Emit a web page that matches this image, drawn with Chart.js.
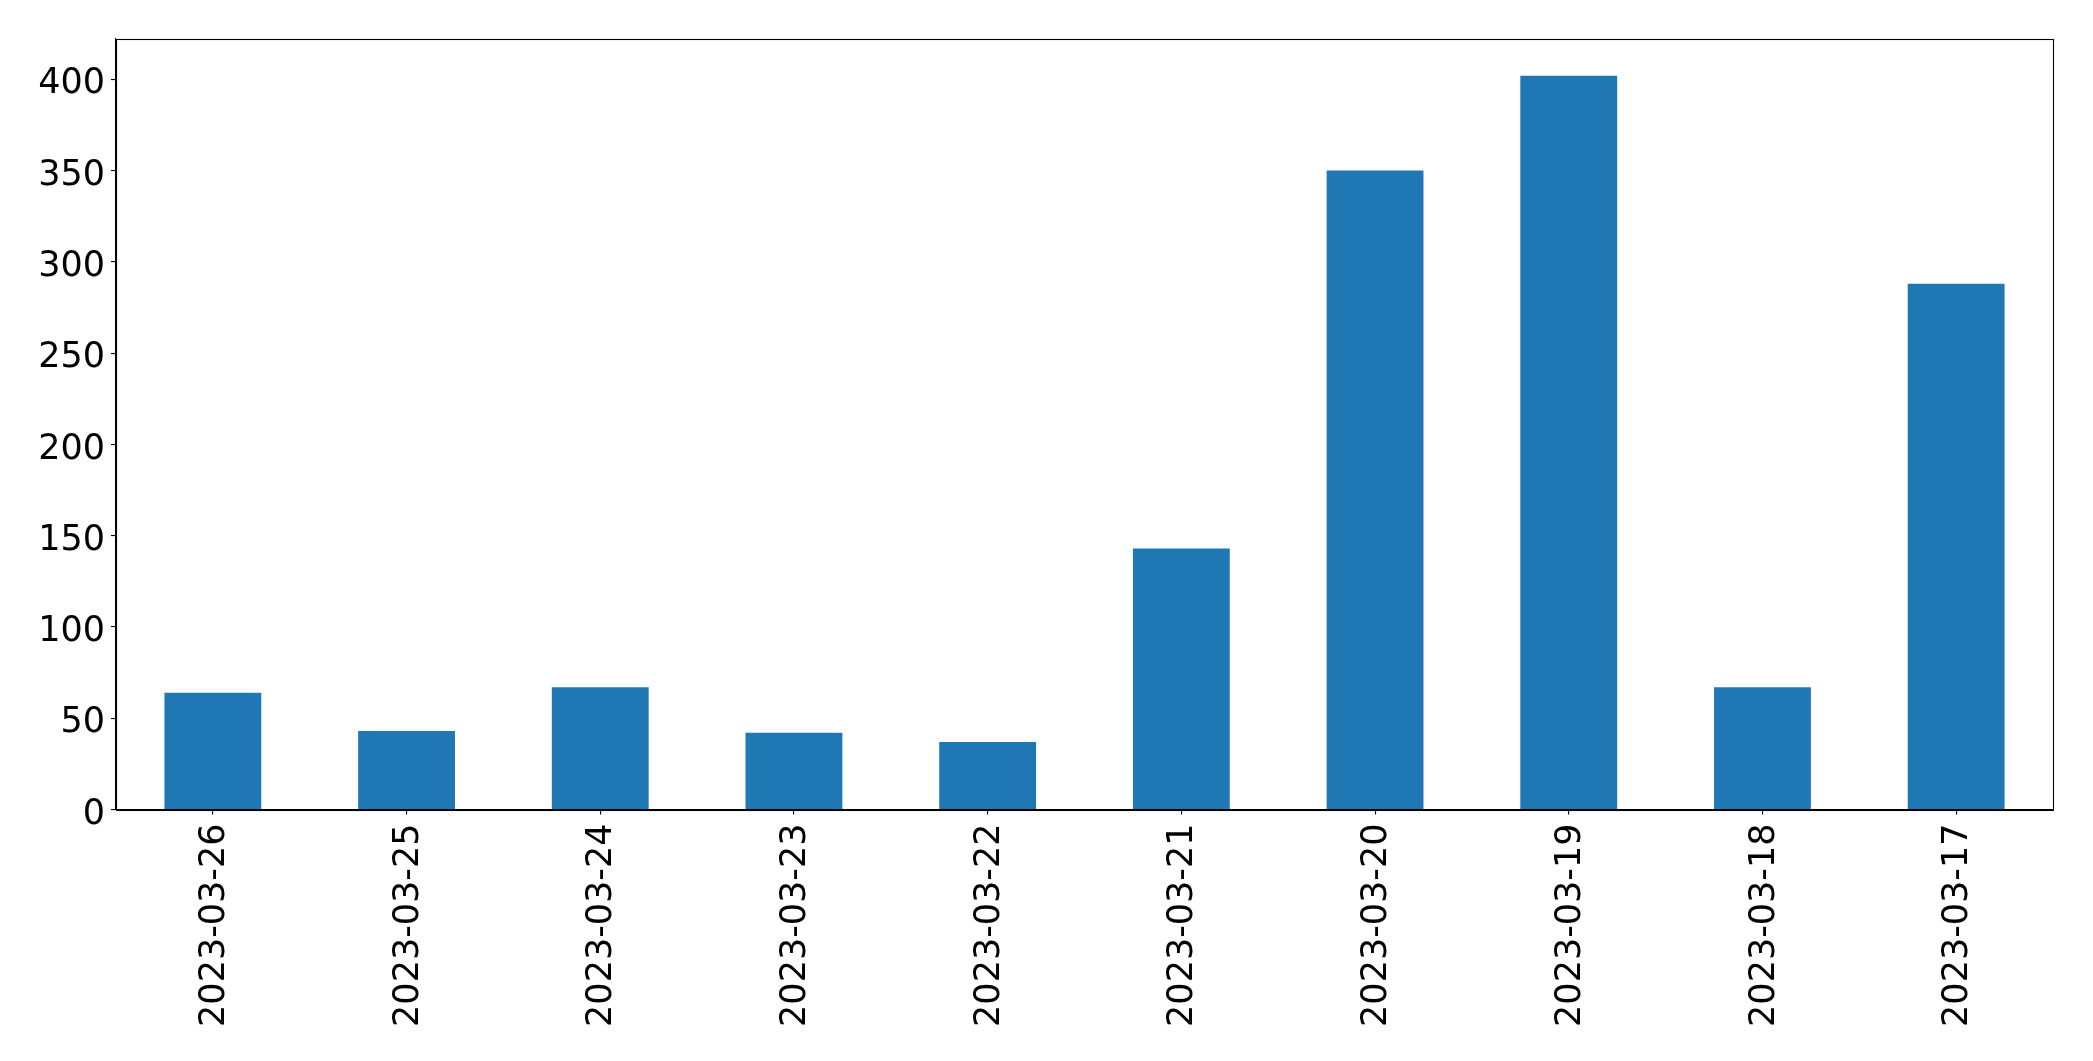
<!DOCTYPE html>
<html>
<head>
<meta charset="utf-8">
<script src="https://cdn.jsdelivr.net/npm/chart.js@4.4.0/dist/chart.umd.min.js"></script>
<style>
  html, body { margin: 0; padding: 0; background: #ffffff; }
  #wrap { width: 2093px; height: 1061px; }
</style>
</head>
<body>
<div id="wrap"><canvas id="c" width="2093" height="1061"></canvas></div>
<script>
const categories = ["2023-03-26", "2023-03-25", "2023-03-24", "2023-03-23", "2023-03-22",
                    "2023-03-21", "2023-03-20", "2023-03-19", "2023-03-18", "2023-03-17"];
const values = [64, 43, 67, 42, 37, 143, 350, 402, 67, 288];
const yTicks = [0, 50, 100, 150, 200, 250, 300, 350, 400];

const yMax = Math.max(...values) * 1.05;

const framePlugin = {
  id: 'frame',
  afterDatasetsDraw(chart) {
    const a = chart.chartArea;
    const ctx = chart.ctx;
    ctx.save();
    ctx.strokeStyle = '#000000';
    ctx.lineWidth = 1.1;
    ctx.strokeRect(Math.round(a.left) + 0.5, Math.round(a.top) + 0.5,
                   Math.round(a.right - a.left), Math.round(a.bottom - a.top));
    ctx.restore();
  }
};

new Chart(document.getElementById('c'), {
  type: 'bar',
  data: {
    labels: categories,
    datasets: [{
      data: values,
      backgroundColor: '#1f77b4',
      borderWidth: 0,
      barPercentage: 0.5,
      categoryPercentage: 1.0
    }]
  },
  options: {
    responsive: false,
    animation: false,
    devicePixelRatio: 1,
    layout: { padding: { top: 39, right: 40, left: 0, bottom: 0 } },
    plugins: { legend: { display: false }, tooltip: { enabled: false }, title: { display: false } },
    scales: {
      x: {
        offset: true,
        grid: { display: true, offset: false, drawOnChartArea: false, drawTicks: true, tickLength: 5, color: '#000000', lineWidth: 1.1 },
        border: { display: true, color: '#000000', width: 1.1 },
        ticks: {
          color: '#000000',
          font: { family: 'DejaVu Sans', size: 35 },
          minRotation: 90, maxRotation: 90,
          autoSkip: false,
          padding: 9,
          labelOffset: 2
        },
        afterFit(scale) { scale.height = 251.5; }
      },
      y: {
        min: 0,
        max: yMax,
        grid: { display: true, drawOnChartArea: false, drawTicks: true, tickLength: 5, color: '#000000', lineWidth: 1.1 },
        border: { display: true, color: '#000000', width: 1.1 },
        ticks: {
          color: '#000000',
          font: { family: 'DejaVu Sans', size: 35 },
          stepSize: 50,
          includeBounds: false,
          padding: 6,
          labelOffset: 5,
          callback: (v) => String(v)
        },
        afterBuildTicks(scale) { scale.ticks = yTicks.map(v => ({ value: v })); },
        afterFit(scale) { scale.width = 116; }
      }
    }
  },
  plugins: [framePlugin]
});
</script>
</body>
</html>
